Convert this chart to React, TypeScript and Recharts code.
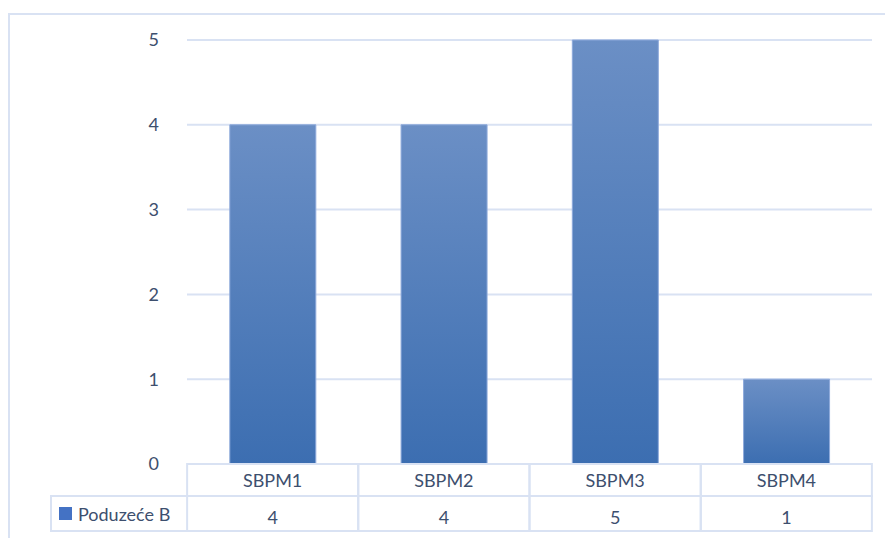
import { BarChart, Bar, XAxis, YAxis, CartesianGrid } from 'recharts';

const categories = ['SBPM1', 'SBPM2', 'SBPM3', 'SBPM4'];
const seriesName = 'Poduzeće B';
const values = [4, 4, 5, 1];
const yTicks = [0, 1, 2, 3, 4, 5];

const data = categories.map((c, i) => ({ name: c, value: values[i] }));

const textColor = '#3d4f6e';
const lineColor = '#d9e2f3';
const font = 'Lato, "Open Sans", sans-serif';

// category row + value row under each band, like Excel's data table
const TableTick = (props: any) => {
    const { x, y, index, payload } = props;
    const half = 85.5;
    return (
        <g>
            <rect x={x - half} y={y} width={half * 2} height={32} fill="none" stroke={lineColor} strokeWidth={2} />
            <rect x={x - half} y={y + 32} width={half * 2} height={35} fill="none" stroke={lineColor} strokeWidth={2} />
            <text x={x} y={y + 23} textAnchor="middle" fill={textColor} fontSize={18} fontFamily={font}>
                {payload.value}
            </text>
            <text x={x} y={y + 60} textAnchor="middle" fill={textColor} fontSize={18} fontFamily={font}>
                {values[index]}
            </text>
        </g>
    );
};

export default function App() {
    return (
        <div style={{ position: 'absolute', left: 0, top: 0, width: 885, height: 538, background: '#fff' }}>
            <div
                style={{
                    position: 'absolute',
                    left: 8,
                    top: 13,
                    width: 877,
                    height: 525,
                    borderLeft: `2px solid ${lineColor}`,
                    borderTop: `2px solid ${lineColor}`,
                    boxSizing: 'border-box',
                }}
            />
            <BarChart
                width={885}
                height={538}
                data={data}
                margin={{ top: 40, right: 13, bottom: 7, left: 0 }}
                barCategoryGap="25%"
            >
                <defs>
                    <linearGradient id="barFill" x1="0" y1="0" x2="0" y2="1">
                        <stop offset="0%" stopColor="#6b8fc5" />
                        <stop offset="100%" stopColor="#3c6eb1" />
                    </linearGradient>
                </defs>
                <CartesianGrid vertical={false} stroke={lineColor} strokeWidth={2} />
                <YAxis
                    width={187}
                    domain={[0, 5]}
                    ticks={yTicks}
                    axisLine={false}
                    tickLine={false}
                    tickMargin={22}
                    tick={{ fill: textColor, fontSize: 18, fontFamily: font }}
                />
                <XAxis
                    dataKey="name"
                    height={67}
                    axisLine={false}
                    tickLine={false}
                    tickSize={0}
                    tickMargin={0}
                    interval={0}
                    tick={<TableTick />}
                />
                <Bar dataKey="value" name={seriesName} fill="url(#barFill)" stroke="#8eaadb" strokeWidth={1} isAnimationActive={false} />
            </BarChart>
            <div
                style={{
                    position: 'absolute',
                    left: 50,
                    top: 495,
                    width: 137,
                    height: 37,
                    border: `2px solid ${lineColor}`,
                    borderRight: 'none',
                    boxSizing: 'border-box',
                    display: 'flex',
                    alignItems: 'center',
                    paddingLeft: 7,
                    fontFamily: font,
                    fontSize: 18,
                    color: textColor,
                }}
            >
                <span style={{ width: 13, height: 13, background: '#4472c4', marginRight: 6, display: 'inline-block' }} />
                {seriesName}
            </div>
        </div>
    );
}
